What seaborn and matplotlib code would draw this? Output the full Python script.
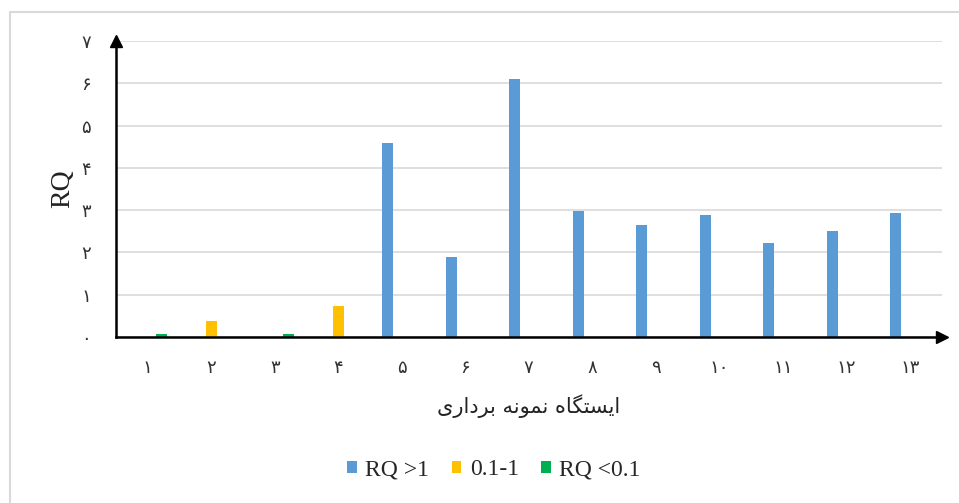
import numpy as np
import pandas as pd
import matplotlib
matplotlib.use("Agg")
import matplotlib.pyplot as plt
from matplotlib.patches import Rectangle, Patch
import seaborn as sns

# ---------------- data ----------------
stations = list(range(1, 14))
rq_high = [0, 0, 0, 0, 4.59, 1.89, 6.10, 2.98, 2.65, 2.88, 2.22, 2.50, 2.93]   # RQ > 1
rq_mid = [0, 0.38, 0, 0.74, 0, 0, 0, 0, 0, 0, 0, 0, 0]                        # 0.1 - 1
rq_low = [0.07, 0, 0.07, 0, 0, 0, 0, 0, 0, 0, 0, 0, 0]                        # RQ < 0.1
classes = ["RQ >1", "0.1-1", "RQ <0.1"]
colors = ["#5B9BD5", "#FFC000", "#00B050"]
x_title = "ایستگاه نمونه برداری"
y_title = "RQ"
y_ticks = list(range(0, 8))

# ---------------- helpers ----------------
PERSIAN_DIGITS = "۰۱۲۳۴۵۶۷۸۹"


def fa_num(n):
    return "".join(PERSIAN_DIGITS[int(c)] for c in str(n))


# minimal Persian shaper: (isolated, final, initial, medial)
FORMS = {
    "ا": ("\uFE8D", "\uFE8E", None, None),
    "ب": ("\uFE8F", "\uFE90", "\uFE91", "\uFE92"),
    "ت": ("\uFE95", "\uFE96", "\uFE97", "\uFE98"),
    "د": ("\uFEA9", "\uFEAA", None, None),
    "ر": ("\uFEAD", "\uFEAE", None, None),
    "س": ("\uFEB1", "\uFEB2", "\uFEB3", "\uFEB4"),
    "م": ("\uFEE1", "\uFEE2", "\uFEE3", "\uFEE4"),
    "ن": ("\uFEE5", "\uFEE6", "\uFEE7", "\uFEE8"),
    "ه": ("\uFEE9", "\uFEEA", "\uFEEB", "\uFEEC"),
    "و": ("\uFEED", "\uFEEE", None, None),
    "ی": ("\uFBFC", "\uFBFD", "\uFBFE", "\uFBFF"),
    "گ": ("\uFB92", "\uFB93", "\uFB94", "\uFB95"),
}


def shape(text):
    out = []
    chars = list(text)
    for i, ch in enumerate(chars):
        if ch not in FORMS:
            out.append(ch)
            continue
        prev = chars[i - 1] if i > 0 else None
        nxt = chars[i + 1] if i + 1 < len(chars) else None
        joins_prev = prev in FORMS and FORMS[prev][2] is not None
        joins_next = nxt in FORMS and FORMS[ch][2] is not None
        iso, fin, ini, med = FORMS[ch]
        if joins_prev and joins_next:
            out.append(med)
        elif joins_prev:
            out.append(fin)
        elif joins_next:
            out.append(ini)
        else:
            out.append(iso)
    return "".join(out)[::-1]


# ---------------- dataframe ----------------
labels = [fa_num(s) for s in stations]
rows = []
for lab, a, b, c in zip(labels, rq_high, rq_mid, rq_low):
    for cls, v in zip(classes, (a, b, c)):
        rows.append({"station": lab, "cls": cls, "RQ": v})
df = pd.DataFrame(rows)

# ---------------- plot ----------------
sns.set_theme(style="white")
plt.rcParams["font.family"] = ["Liberation Serif", "DejaVu Sans"]

W, H = 959, 503
fig = plt.figure(figsize=(W / 100, H / 100), dpi=100)
ax = fig.add_axes([116 / W, (H - 337) / H, (941.5 - 116) / W, (337 - 41) / H])

sns.barplot(data=df, x="station", y="RQ", hue="cls", order=labels,
            hue_order=classes, palette=colors, width=0.66, gap=0.2,
            dodge=True, saturation=1, linewidth=0, errorbar=None,
            legend=False, ax=ax)

ax.set_xlim(-0.5, len(stations) - 0.5)
ax.set_ylim(0, 7)
ax.set_yticks(y_ticks)
ax.set_yticklabels([fa_num(t) for t in y_ticks],
                   family=["DejaVu Sans"], fontsize=13)
ax.set_xticks(range(len(labels)))
ax.set_xticklabels(labels, family=["DejaVu Sans"], fontsize=13)
ax.set_xticks(np.arange(-0.5, len(stations)), minor=True)
ax.tick_params(axis="x", which="major", length=0, pad=16, colors="#333333")
ax.tick_params(axis="x", which="minor", length=6, width=1.3, direction="out",
               color="black")
ax.tick_params(axis="y", which="major", length=6, width=1.3, direction="out",
               pad=12, color="black", labelcolor="#333333")

ax.yaxis.grid(True, color="#D9D9D9", linewidth=1.2)
ax.set_axisbelow(True)
for s in ("top", "right"):
    ax.spines[s].set_visible(False)
for s in ("left", "bottom"):
    ax.spines[s].set_color("black")
    ax.spines[s].set_linewidth(1.8)

# arrow heads
ax.plot(1, 0, ">", color="black", markersize=9, transform=ax.transAxes,
        clip_on=False)
ax.plot(0, 1, "^", color="black", markersize=9, transform=ax.transAxes,
        clip_on=False)

ax.set_xlabel(shape(x_title), family=["DejaVu Sans"], fontsize=15,
              labelpad=12, color="#222222")
ax.set_ylabel(y_title, fontsize=20, labelpad=4, color="#222222")

handles = [Patch(facecolor=c, edgecolor="none") for c in colors]
fig.legend(handles, classes, loc="center", bbox_to_anchor=(0.515, 0.066),
           ncol=3, frameon=False, handlelength=0.42, handleheight=0.42,
           handletextpad=0.35, columnspacing=0.95, fontsize=17)

# chart-area border
fig.patches.append(Rectangle((10 / W, -0.1), 1.2, (H - 12) / H + 0.1,
                             transform=fig.transFigure, fill=False,
                             edgecolor="#D9D9D9", linewidth=1.5))

fig.savefig("out.png", dpi=100)
